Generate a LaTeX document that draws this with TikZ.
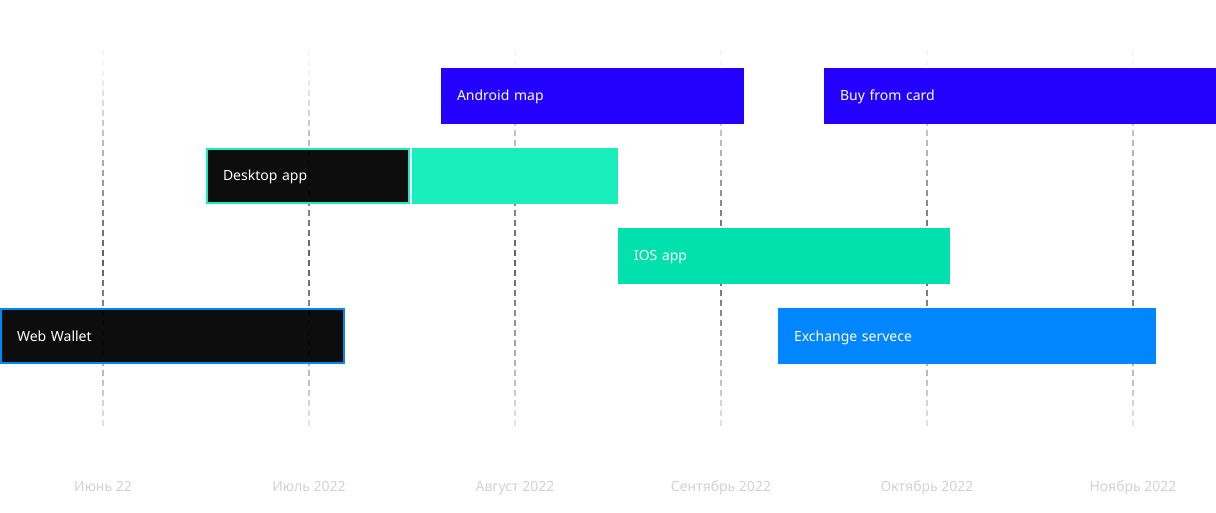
\documentclass[tikz,border=0pt]{standalone}
\usepackage{fontspec}
\setmainfont{Noto Sans}
\usetikzlibrary{positioning}
\definecolor{v1}{HTML}{2400FF}
\definecolor{t1}{HTML}{18EEBB}
\definecolor{t2}{HTML}{00E1AE}
\definecolor{b1}{HTML}{0086FF}
\definecolor{m}{HTML}{D2D2D2}
\definecolor{g}{HTML}{5E5E5E}

\begin{document}
\begin{tikzpicture}[x=1pt, y=-1pt,
    bar/.style={anchor=north west, minimum height=56pt, inner xsep=16pt, inner ysep=0pt,
        outer sep=0pt, align=left, text=white, text height=12pt, text depth=2pt,
        font=\fontsize{14}{17}\selectfont},
    darkbar/.style={bar, minimum height=54pt, fill=black, fill opacity=0.95, text opacity=1,
        line width=2pt},
    month/.style={text=m, font=\fontsize{14}{17}\selectfont, inner sep=0pt,
        text height=12pt, text depth=2pt}]
			\useasboundingbox (0,0) rectangle (1216,513);

			% Draw month grid lines (fading at both ends)
			\foreach \x in {103,309,515,721,927,1133} {
					\foreach \y in {50,60,...,420} {
							\pgfmathsetmacro{\op}{max(0.06,1-abs(\y+3-258)/200)}
							\draw[g, line width=1.5pt, opacity=\op] (\x,\y) -- (\x,\y+6);
						}
				}

			% Add bars
			\node[bar, fill=v1, text width=271pt] (android) at (441,68) {Android map};
			\node[bar, fill=v1, text width=360pt] (buy) at (824,68) {Buy from card};
			\node[darkbar, draw=t1, text width=170pt] (desktop) at (207,149) {Desktop app};
			\node[bar, fill=t1, text width=174pt] (desktopext) at (412,148) {};
			\node[bar, fill=t2, text width=300pt] (ios) at (618,228) {IOS app};
			\node[darkbar, draw=b1, text width=311pt] (web) at (1,309) {Web Wallet};
			\node[bar, fill=b1, text width=346pt] (exchange) at (778,308) {Exchange servece};

			% Label months
			\foreach \x/\t [count=\i] in {103/Июнь 22, 309/Июль 2022, 515/Август 2022,
					721/Сентябрь 2022, 927/Октябрь 2022, 1133/Ноябрь 2022} {
					\node[month] (m\i) at (\x,486) {\t};
				}
		\end{tikzpicture}
\end{document}
